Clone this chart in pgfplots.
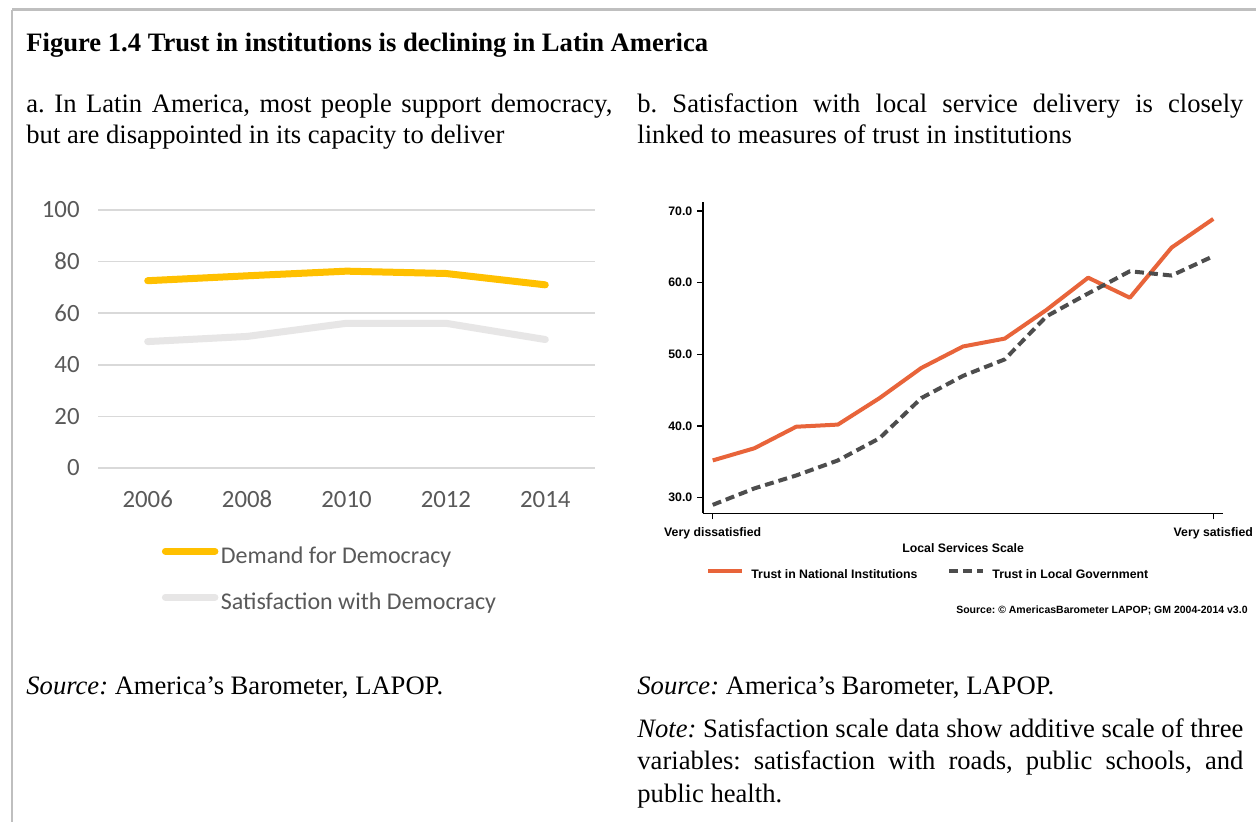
\documentclass[border=0pt]{standalone}
\usepackage{fontspec}
\setmainfont{Liberation Serif}
\newfontfamily\carlito[Numbers=Lining]{Carlito}
\newfontfamily\arialf{Liberation Sans}
\usepackage{pgfplots}
\pgfplotsset{compat=1.18}
\definecolor{demand}{HTML}{FFC000}
\definecolor{satis}{HTML}{E7E6E6}
\definecolor{gridc}{HTML}{D9D9D9}
\definecolor{txtgray}{HTML}{595959}
\definecolor{natl}{HTML}{E8643A}
\definecolor{localg}{HTML}{4D4D4D}
\definecolor{framec}{HTML}{BFBFBF}
\frenchspacing
\begin{document}
\begin{tikzpicture}
\path[use as bounding box] (0,0) rectangle (628pt,-410.5pt);
\fill[white] (0,0) rectangle (628pt,-410.5pt);
\draw[framec, line width=1.25pt] (6pt,-4.75pt) -- (628.5pt,-4.75pt);
\draw[framec, line width=1.25pt] (6pt,-4.75pt) -- (6pt,-411pt);
% texts
\node[anchor=base west, inner sep=0pt, font=\bfseries\fontsize{13.3}{16}\selectfont] at (13pt,-25.5pt) {Figure 1.4 Trust in institutions is declining in Latin America};
\node[anchor=base west, inner sep=0pt, text width=293pt, align=justify, font=\fontsize{13.3}{15.5}\selectfont] at (13pt,-56pt) {a. In Latin America, most people support democracy,\linebreak but are disappointed in its capacity to deliver};
\node[anchor=base west, inner sep=0pt, text width=303pt, align=justify, font=\fontsize{13.3}{15.5}\selectfont] at (318.5pt,-56pt) {b. Satisfaction with local service delivery is closely\linebreak linked to measures of trust in institutions};
\node[anchor=base west, inner sep=0pt, font=\fontsize{13.3}{15.5}\selectfont] at (13pt,-347pt) {\textit{Source:} America’s Barometer, LAPOP.};
\node[anchor=base west, inner sep=0pt, font=\fontsize{13.3}{15.5}\selectfont] at (318.5pt,-347pt) {\textit{Source:} America’s Barometer, LAPOP.};
\node[anchor=base west, inner sep=0pt, text width=303pt, align=justify, font=\fontsize{13.3}{16.25}\selectfont] at (318.5pt,-368.5pt) {\textit{Note:} Satisfaction scale data show additive scale of three\linebreak variables: satisfaction with roads, public schools, and\linebreak public health.};
\node[anchor=base east, inner sep=0pt, font=\arialf\bfseries\fontsize{5.25}{6}\selectfont] at (624pt,-306.5pt) {Source: \textcopyright\ AmericasBarometer LAPOP; GM 2004-2014 v3.0};
% panel a
\begin{axis}[
 at={(49pt,-234pt)}, anchor=south west, scale only axis, width=248.5pt, height=129pt,
 xmin=-0.5, xmax=4.5, ymin=0, ymax=100,
 axis line style={draw=none},
 ytick={0,20,...,100}, xtick={0,...,4}, xticklabels={2006,2008,2010,2012,2014},
 major tick length=0pt,
 ymajorgrids, grid style={gridc, line width=0.75pt},
 ticklabel style={font=\carlito\fontsize{12.4}{14}\selectfont, text=txtgray},
 /pgf/number format/assume math mode=true,
 yticklabel style={anchor=east, inner sep=0pt, xshift=-9pt},
 xticklabel style={anchor=base, inner sep=0pt, yshift=-19.75pt},
 legend style={at={(axis description cs:0.1157,-0.435)}, anchor=west, draw=none, fill=none,
   font=\carlito\fontsize{12}{14}\selectfont, text=txtgray,
   nodes={inner sep=0pt, text height=9pt, text depth=3pt}, row sep=11pt, column sep=1.25pt},
 legend cell align=left,
 legend image code/.code={\draw[#1] (0pt,3pt) -- (24.75pt,3pt);},
 clip=false,
]
\addplot[demand, line width=3.5pt, line join=round, line cap=round] coordinates {(0,72.6)(1,74.5)(2,76.3)(3,75.4)(4,71.0)};
\addlegendentry{Demand for Democracy}
\addplot[satis, line width=3.5pt, line join=round, line cap=round] coordinates {(0,49.0)(1,51.0)(2,56.1)(3,56.1)(4,49.8)};
\addlegendentry{Satisfaction with Democracy}
\end{axis}
% panel b
\begin{axis}[
 at={(351.5pt,-256.65pt)}, anchor=south west, scale only axis, width=260.15pt, height=155.8pt,
 xmin=0.767, xmax=13.24, ymin=27.82, ymax=71.3,
 axis lines*=left, axis line style={line width=0.65pt, black},
 tick align=outside, major tick length=3pt, tick style={line width=0.65pt, black},
 xtick={1,13}, xticklabels={Very dissatisfied, Very satisfied},
 ytick={30,40,...,70},
 /pgf/number format/fixed, /pgf/number format/fixed zerofill, /pgf/number format/precision=1,
 /pgf/number format/assume math mode=true,
 ticklabel style={font=\arialf\bfseries\fontsize{6.15}{7}\selectfont},
 yticklabel style={anchor=east, inner sep=0pt, xshift=-2.15pt},
 xticklabel style={anchor=base, inner sep=0pt, yshift=-8.4pt},
 xlabel={Local Services Scale},
 xlabel style={at={(axis description cs:0.5,0)}, anchor=base, yshift=-19.6pt, inner sep=0pt, font=\arialf\bfseries\fontsize{6.15}{7}\selectfont},
 legend columns=2,
 legend style={at={(axis description cs:-0.0058,-0.198)}, anchor=west, draw=none, fill=none,
   font=\arialf\bfseries\fontsize{6.15}{7}\selectfont,
   nodes={inner sep=0pt, text height=4.5pt, text depth=1.3pt}, column sep=3.5pt,
   /tikz/every even column/.append style={column sep=15pt}},
 legend image code/.code={\draw[#1] (0pt,2.2pt) -- (17pt,2.2pt);},
]
\addplot[natl, line width=2pt, line join=round] coordinates {(1,35.2)(2,36.9)(3,39.9)(4,40.2)(5,43.9)(6,48.1)(7,51.1)(8,52.2)(9,56.2)(10,60.7)(11,57.9)(12,64.9)(13,68.9)};
\addlegendentry{Trust in National Institutions}
\addplot[localg, line width=2pt, dash pattern=on 4.5pt off 2.5pt, line join=round] coordinates {(1,29.0)(2,31.3)(3,33.1)(4,35.2)(5,38.3)(6,43.9)(7,47.0)(8,49.3)(9,55.3)(10,58.5)(11,61.6)(12,61.0)(13,63.7)};
\addlegendentry{Trust in Local Government}
\end{axis}
\end{tikzpicture}
\end{document}
